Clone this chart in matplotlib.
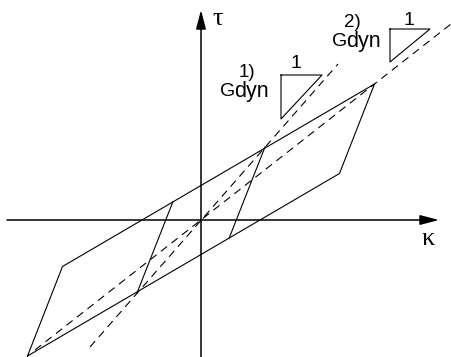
import matplotlib
matplotlib.use("Agg")
import matplotlib.pyplot as plt

# lazo de histeresis (coordenadas kappa, tau con origen en el cruce de ejes)
lazo_k = [-173.5, -138.5, 173.5, 138.5, -173.5]
lazo_t = [-136.0, -46.5, 136.0, 46.5, -136.0]

# ramas interiores (descarga / recarga)
interior_izq_k = [-64.0, -28.0]
interior_izq_t = [-73.0, 18.5]
interior_der_k = [28.0, 64.0]
interior_der_t = [-18.5, 73.0]

# secantes G_dyn 1) y 2)
g1_k = [-111.0, 137.0]
g1_t = [-127.0, 156.0]
g2_k = [-166.0, 250.0]
g2_t = [-130.0, 196.0]

# triangulos de pendiente
tri1_k = [80.0, 121.0, 80.0, 80.0]
tri1_t = [145.0, 145.0, 101.0, 145.0]
tri2_k = [189.0, 229.0, 189.0, 189.0]
tri2_t = [191.0, 191.0, 158.0, 191.0]

fig = plt.figure(figsize=(4.52, 3.57), dpi=100)
ax = fig.add_axes([0, 0, 1, 1])
ax.set_xlim(-201, 251)
ax.set_ylim(-137, 220)
ax.axis('off')

# ejes con flecha
flecha = dict(arrowstyle='-|>,head_length=1.15,head_width=0.3', mutation_scale=10,
              lw=1.1, color='black', shrinkA=0, shrinkB=0)
ax.annotate('', xy=(238, 0), xytext=(-194, 0), arrowprops=flecha)
ax.annotate('', xy=(0, 210), xytext=(0, -137), arrowprops=flecha)

ax.plot(lazo_k, lazo_t, color='black', lw=0.8)
ax.plot(interior_izq_k, interior_izq_t, color='black', lw=0.8)
ax.plot(interior_der_k, interior_der_t, color='black', lw=0.8)

ax.plot(g1_k, g1_t, color='black', lw=0.8, linestyle=(0, (7, 5)))
ax.plot(g2_k, g2_t, color='black', lw=0.8, linestyle=(0, (7, 5)))

ax.plot(tri1_k, tri1_t, color='black', lw=0.8)
ax.plot(tri2_k, tri2_t, color='black', lw=0.8)

fuente = 'Liberation Sans'
ax.text(19, 124, 'G', fontsize=14, family=fuente, va='baseline', ha='left')
ax.text(33, 122.5, 'dyn', fontsize=15.5, family=fuente, va='baseline', ha='left')
ax.text(37.5, 143, '1)', fontsize=13.5, family=fuente, va='baseline', ha='left')
ax.text(94.5, 152, '1', fontsize=14, family=fuente, va='baseline', ha='center')

ax.text(131, 174.3, 'G', fontsize=14, family=fuente, va='baseline', ha='left')
ax.text(145, 173.3, 'dyn', fontsize=15.5, family=fuente, va='baseline', ha='left')
ax.text(143, 193, '2)', fontsize=13.5, family=fuente, va='baseline', ha='left')
ax.text(207.5, 195, '1', fontsize=14, family=fuente, va='baseline', ha='center')

ax.text(11, 195, 'τ', fontsize=19, family='Liberation Serif', va='baseline', ha='left')
ax.text(221, -25, 'κ', fontsize=19, family='Liberation Serif', va='baseline', ha='left')

fig.savefig('out.png', dpi=100)
